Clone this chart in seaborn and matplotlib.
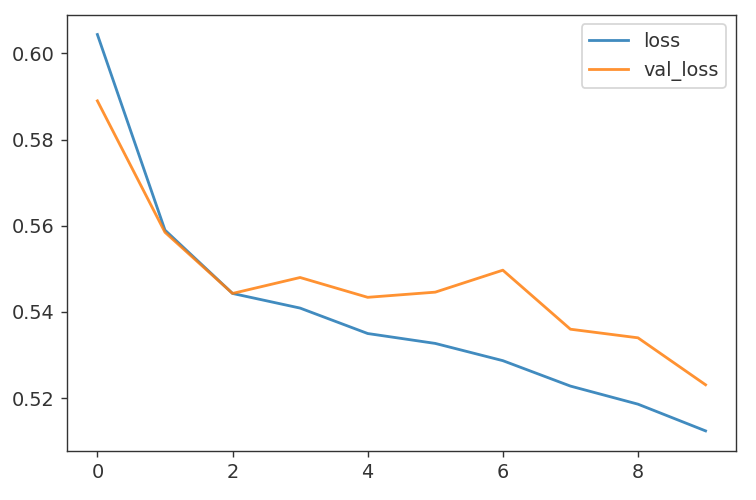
import matplotlib
matplotlib.use("Agg")
import matplotlib.pyplot as plt
import seaborn as sns
import pandas as pd

############################################################
# DATA
############################################################

epochs = [0, 1, 2, 3, 4, 5, 6, 7, 8, 9]
loss = [0.6044, 0.5590, 0.5443, 0.5409, 0.5350, 0.5327, 0.5287, 0.5228, 0.5186, 0.5124]
val_loss = [0.5890, 0.5585, 0.5443, 0.5480, 0.5434, 0.5446, 0.5497, 0.5360, 0.5340, 0.5231]

history = pd.DataFrame({"loss": loss, "val_loss": val_loss}, index=epochs)

############################################################
# PLOT
############################################################

plt.rcParams.update({
    "font.size": 11,
    "text.color": "#333333",
    "xtick.color": "#333333",
    "ytick.color": "#333333",
    "axes.edgecolor": "#333333",
})

fig, ax = plt.subplots(figsize=(6, 500 / 126), dpi=126)

sns.lineplot(data=history, dashes=False, ax=ax,
             palette=["#1f77b4", "#ff7f0e"], linewidth=1.6, alpha=0.85)

ax.set_xticks([0, 2, 4, 6, 8])
ax.set_yticks([0.52, 0.54, 0.56, 0.58, 0.60])
ax.legend(loc="upper right")

fig.subplots_adjust(left=0.0886, right=0.9735, top=0.9706, bottom=0.0986)

fig.savefig("out.png", dpi=126)
